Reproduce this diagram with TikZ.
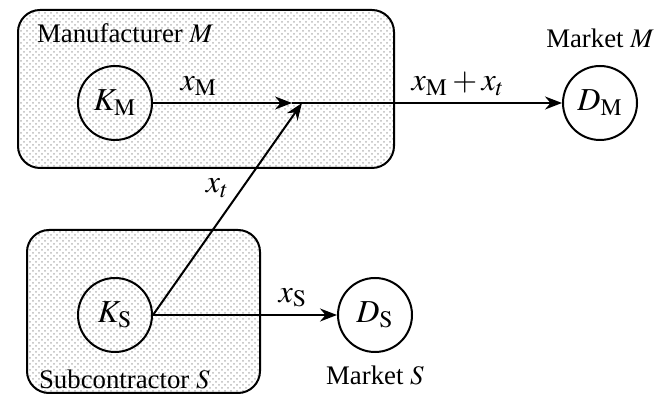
\documentclass[tikz,border=0pt]{standalone}
\usepackage{mathptmx}
\usepackage[no-math]{fontspec}
\setmainfont{Liberation Serif}
\usetikzlibrary{arrows.meta,positioning,patterns}

\begin{document}
\begin{tikzpicture}[x=0.5pt,y=-0.5pt,node distance=4pt,
    firm/.style={draw,line width=1pt,rounded corners=11pt,pattern=crosshatch dots,pattern color=gray!55},
    agent/.style={draw,circle,line width=1pt,minimum size=37pt,inner sep=0pt,font=\fontsize{16}{18}\selectfont},
    qty/.style={font=\fontsize{16}{18}\selectfont},
    flow/.style={line width=1pt,-{Stealth[length=8.5pt,width=6.5pt]}},
    link/.style={line width=1pt},
    font=\fontsize{13.4}{16}\selectfont]
  \useasboundingbox (0,0) rectangle (668,394);
  % firms
  \draw[firm] (18,10) rectangle (394,168);
  \draw[firm] (27,230) rectangle (260,393);
  \node[anchor=west] (mlab) at (30,33) {Manufacturer $M$};
  \node[anchor=west] (slab) at (32,379) {Subcontractor $S$};
  % plants and markets
  \node[agent] (km) at (115,103) {$K_{\mathrm{M}}$};
  \node[agent] (dm) at (600,103) {$D_{\mathrm{M}}$};
  \node[agent] (ks) at (115,315) {$K_{\mathrm{S}}$};
  \node[agent] (ds) at (375,315) {$D_{\mathrm{S}}$};
  \node[above=5pt of dm] (mmlab) {Market $M$};
  \node[below=3pt of ds] (mslab) {Market $S$};
  \coordinate (tip) at (292,103);
  \coordinate (j) at (302,103);
  % flows
  \draw[flow] (km) -- node[qty,above,pos=0.33] {$x_{\mathrm{M}}$} (tip);
  \draw[link] (tip) -- (j);
  \draw[flow] (j) -- node[qty,above,pos=0.6] {$x_{\mathrm{M}}+x_t$} (dm);
  \draw[flow] (ks.east) -- node[qty,left,pos=0.6,xshift=-3pt] {$x_t$} (j);
  \draw[flow] (ks) -- node[qty,above,pos=0.76] {$x_{\mathrm{S}}$} (ds);
\end{tikzpicture}
\end{document}
